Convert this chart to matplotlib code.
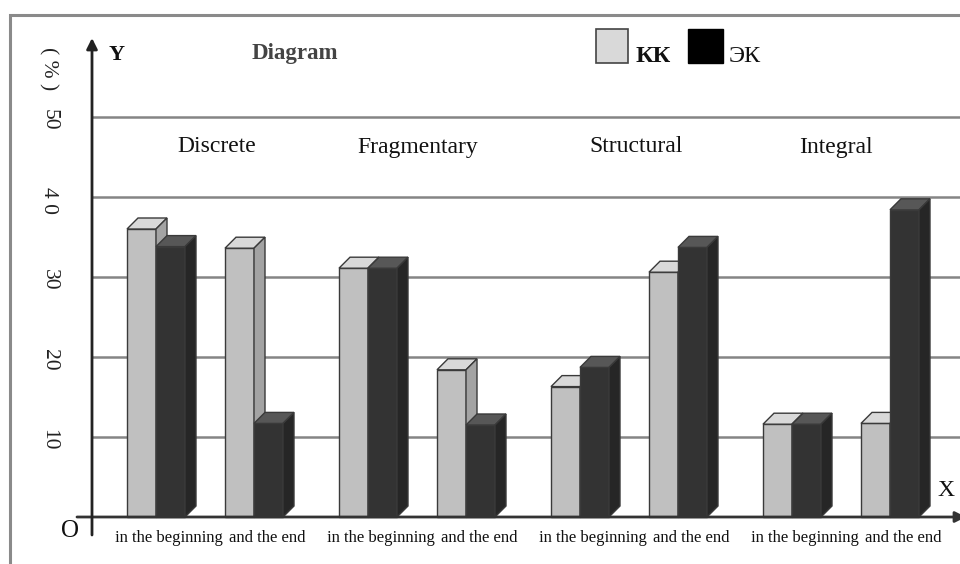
import matplotlib
matplotlib.use("Agg")
import matplotlib.pyplot as plt
from matplotlib.patches import Polygon, Rectangle

# ---- data -------------------------------------------------------------
categories = ["Discrete", "Fragmentary", "Structural", "Integral"]
stages = ["in the beginning", "and the end"]
series_names = ["КК", "ЭК"]
kk_values = [36.0, 33.6, 31.1, 18.4, 16.3, 30.6, 11.6, 11.7]
ek_values = [33.8, 11.7, 31.1, 11.5, 18.7, 33.7, 11.6, 38.4]
y_ticks = [10, 20, 30, 40, 50]
y_tick_labels = ["10", "20", "30", "4 0", "50"]

# ---- layout -----------------------------------------------------------
W, H = 960, 564
ZERO_PX = 517          # pixel row of the value axis origin
PX_PER_UNIT = 8.0      # pixels per percentage point
BAR_W = 29
DEPTH_X = 11
DEPTH_Y = 11 / PX_PER_UNIT
CAT_START, CAT_STEP, STAGE_OFF = 205, 212, 49
CAT_LABEL_X = [217, 418, 636, 836]

KK_COL = dict(front="#c0c0c0", top="#d9d9d9", side="#a3a3a3")
EK_COL = dict(front="#333333", top="#575757", side="#262626")
EDGE = "#3a3a3a"
SERIF = "Liberation Serif"


def py(y_pixel):
    """Convert an image row into the value scale used by the axes."""
    return (ZERO_PX - y_pixel) / PX_PER_UNIT


fig = plt.figure(figsize=(W / 100, H / 100), dpi=100)
ax = fig.add_axes([0, 0, 1, 1])
ax.set_xlim(0, W)
ax.set_ylim(py(H), py(0))
ax.axis("off")

# frame around the chart
ax.plot([10, 10, W], [py(H), py(15), py(15)], color="#8a8a8a", lw=2.2,
        solid_joinstyle="miter", zorder=1)

# horizontal grid
for t in y_ticks:
    ax.plot([92, W], [t, t], color="#858585", lw=1.8, zorder=1)


def draw_bar(x0, h, col, z):
    ax.bar(x0, h, width=BAR_W, align="edge", color=col["front"],
           edgecolor=EDGE, linewidth=1.0, zorder=z)
    top = [(x0, h), (x0 + BAR_W, h), (x0 + BAR_W + DEPTH_X, h + DEPTH_Y),
           (x0 + DEPTH_X, h + DEPTH_Y)]
    side = [(x0 + BAR_W, 0), (x0 + BAR_W + DEPTH_X, DEPTH_Y),
            (x0 + BAR_W + DEPTH_X, h + DEPTH_Y), (x0 + BAR_W, h)]
    ax.add_patch(Polygon(top, closed=True, facecolor=col["top"],
                         edgecolor=EDGE, lw=1.0, zorder=z))
    ax.add_patch(Polygon(side, closed=True, facecolor=col["side"],
                         edgecolor=EDGE, lw=1.0, zorder=z))


z = 2
for i, cat in enumerate(categories):
    cx = CAT_START + CAT_STEP * i
    for s, stage in enumerate(stages):
        j = i * len(stages) + s
        mid = cx + (STAGE_OFF if s else -STAGE_OFF)
        draw_bar(mid - BAR_W, kk_values[j], KK_COL, z)
        draw_bar(mid, ek_values[j], EK_COL, z + 1)
        z += 2
        ax.text(mid + 13, py(538), stage, family=SERIF, fontsize=12,
                ha="center", va="center", color="#111111")
    ax.text(CAT_LABEL_X[i], py(147), cat, family=SERIF, fontsize=17,
            ha="center", va="center", color="#111111")

# axes with arrows
ax.annotate("", xy=(966, 0), xytext=(77, 0), annotation_clip=False,
            arrowprops=dict(arrowstyle="-|>", color="#333333", lw=2,
                            mutation_scale=16, shrinkA=0, shrinkB=0),
            zorder=40)
ax.annotate("", xy=(92, py(38)), xytext=(92, py(535)), annotation_clip=False,
            arrowprops=dict(arrowstyle="-|>", color="#222222", lw=2,
                            mutation_scale=16, shrinkA=0, shrinkB=0),
            zorder=40)

# rotated value labels
for t, lab in zip(y_ticks, y_tick_labels):
    ax.text(49, t - 0.4, lab, family=SERIF, fontsize=15.5, rotation=270,
            ha="center", va="center", color="#222222")
ax.text(48, py(69), "( % )", family=SERIF, fontsize=15.5, rotation=270,
        ha="center", va="center", color="#222222")

ax.text(117, py(55), "Y", family=SERIF, fontsize=16, fontweight="bold",
        ha="center", va="center", color="#111111")
ax.text(946, py(490), "X", family=SERIF, fontsize=17,
        ha="center", va="center", color="#111111")
ax.text(70, py(531), "O", family=SERIF, fontsize=18,
        ha="center", va="center", color="#111111")
ax.text(295, py(53), "Diagram", family=SERIF, fontsize=16.5,
        fontweight="bold", ha="center", va="center", color="#444444")

# legend
ax.add_patch(Rectangle((596, py(63)), 32, 34 / PX_PER_UNIT,
                       facecolor="#d9d9d9", edgecolor="#444444", lw=1.2,
                       zorder=5))
ax.text(636, py(62), series_names[0], family=SERIF, fontsize=17.5,
        fontweight="bold", ha="left", va="baseline", color="#111111")
ax.add_patch(Rectangle((688, py(63)), 35, 34 / PX_PER_UNIT,
                       facecolor="#000000", edgecolor="#000000", lw=1.0,
                       zorder=5))
ax.text(729, py(62), series_names[1], family=SERIF, fontsize=17.5,
        ha="left", va="baseline", color="#111111")

fig.savefig("out.png", dpi=100)
